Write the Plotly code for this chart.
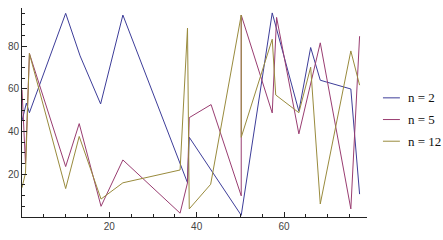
import plotly.graph_objects as go

# Series n = 2
x_n2 = [0, 1.0, 1.7, 10.0, 13.3, 18.0, 23.1, 37.9, 38.3, 50.2, 57.3, 63.4, 66.1, 68.3, 75.3, 77.3]
y_n2 = [45, 53.3, 48.8, 95.3, 75.4, 52.9, 94.5, 16, 37.3, 0.8, 95.5, 49.5, 79.3, 64, 59.9, 10.7]

# Series n = 5
x_n5 = [0, 0.8, 1.7, 10.0, 13.1, 18.1, 23.1, 36.2, 37.9, 38.3, 43.3, 50.2, 50.2, 57.3, 58.3, 63.4, 68.3, 75.3, 77.3]
y_n5 = [59.5, 25, 76.5, 23.6, 43.7, 5.0, 26.7, 1.8, 16, 46.5, 52.6, 9.9, 94.5, 48.7, 93.4, 38.9, 81.5, 3.8, 84.6]

# Series n = 12
x_n12 = [0, 0.8, 1.7, 10.0, 13.1, 18.1, 23.1, 36.2, 37.9, 38.3, 43.2, 50.2, 50.2, 57.3, 58.1, 63.4, 66.1, 68.3, 75.3, 77.3]
y_n12 = [13.7, 20.6, 76.5, 13.3, 37.7, 8.4, 16, 22, 88.4, 3.8, 15.3, 94.5, 37.3, 83.2, 57.1, 48.8, 70.1, 6.1, 77.7, 61.7]

names = ["n = 2", "n = 5", "n = 12"]
colors = ["#3d3d99", "#993d71", "#998b3d"]

x_ticks = [20, 40, 60]
y_ticks = [20, 40, 60, 80]

W, H = 443, 240
ML, MR, MT, MB = 21, 76, 8, 18
PW, PH = W - ML - MR, H - MT - MB

fig = go.Figure()
for i, (xs, ys) in enumerate([(x_n2, y_n2), (x_n5, y_n5), (x_n12, y_n12)]):
    fig.add_trace(go.Scatter(x=xs, y=ys, mode="lines", name=names[i],
                             line=dict(color=colors[i], width=1),
                             showlegend=False))

axis_common = dict(showline=True, linecolor="#222", linewidth=1, showgrid=False,
                   zeroline=False, ticks="inside", ticklen=5, tickcolor="#222",
                   tickwidth=1,
                   tickfont=dict(family="Liberation Sans, Arial, sans-serif", size=10, color="#444"),
                   minor=dict(dtick=5, ticks="inside", ticklen=3, tickcolor="#222", tickwidth=1))

fig.update_xaxes(range=[0, 79.0], tickvals=x_ticks, **axis_common)
fig.update_yaxes(range=[0, 97.8], tickvals=y_ticks, **axis_common)

# Legend drawn beside the plot (key line + label per series)
def px_x(p):
    return (p - ML) / PW

def px_y(p):
    return (H - MB - p) / PH

shapes, annotations = [], []
for i, (name, color) in enumerate(zip(names, colors)):
    row = 100 + 22.2 * i
    shapes.append(dict(type="line", xref="paper", yref="paper",
                       x0=px_x(383), x1=px_x(400), y0=px_y(row), y1=px_y(row),
                       line=dict(color=color, width=1)))
    annotations.append(dict(xref="paper", yref="paper", x=px_x(406), y=px_y(row),
                            xanchor="left", yanchor="middle", showarrow=False,
                            text=name,
                            font=dict(family="Liberation Serif, Times New Roman, serif",
                                      size=13, color="#111")))

fig.update_layout(
    width=W, height=H,
    margin=dict(l=ML, r=MR, t=MT, b=MB),
    paper_bgcolor="white", plot_bgcolor="white",
    showlegend=False,
    shapes=shapes, annotations=annotations,
)

fig.write_html("out.html")
